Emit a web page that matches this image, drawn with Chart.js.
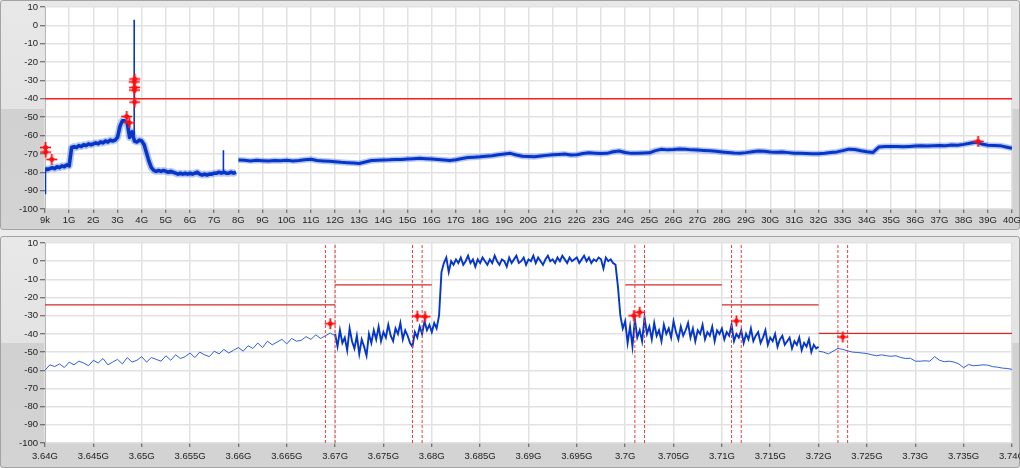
<!DOCTYPE html>
<html>
<head>
<meta charset="utf-8">
<title>Spectrum</title>
<script src="https://cdn.jsdelivr.net/npm/chart.js@4.4.1/dist/chart.umd.min.js"></script>
<style>
  html, body { margin: 0; padding: 0; background: #ececec; }
  body { width: 1020px; height: 468px; position: relative; overflow: hidden; }
  .panel {
    position: absolute; left: 0; width: 1018px;
    border: 1px solid #a3a3a3; border-radius: 3px;
  }
  #panel-top { top: 0; height: 228px; background: linear-gradient(to bottom, #e8e8e8 0%, #e3e3e3 47.4%, #d1d1d1 47.4%, #d3d3d3 100%); }
  #panel-bottom { top: 236px; height: 230px; background: linear-gradient(to bottom, #e8e8e8 0%, #e3e3e3 46%, #d1d1d1 46%, #d3d3d3 100%); }
  canvas { position: absolute; left: 0; }
  #topChart { top: 0; }
  #bottomChart { top: 236px; }
</style>
</head>
<body>
<div class="panel" id="panel-top"></div>
<div class="panel" id="panel-bottom"></div>
<canvas id="topChart" width="1020" height="230"></canvas>
<canvas id="bottomChart" width="1020" height="232"></canvas>
<script>
// ---- axes ----
const levelTicks = [10, 0, -10, -20, -30, -40, -50, -60, -70, -80, -90, -100];

const topTickValues = [0,1,2,3,4,5,6,7,8,9,10,11,12,13,14,15,16,17,18,19,20,21,22,23,24,25,26,27,28,29,30,31,32,33,34,35,36,37,38,39,40];
const topTickLabels = ['9k','1G','2G','3G','4G','5G','6G','7G','8G','9G','10G','11G','12G','13G','14G','15G','16G','17G','18G','19G','20G',
  '21G','22G','23G','24G','25G','26G','27G','28G','29G','30G','31G','32G','33G','34G','35G','36G','37G','38G','39G','40G'];

const bottomTickValues = [3.64,3.645,3.65,3.655,3.66,3.665,3.67,3.675,3.68,3.685,3.69,3.695,3.7,3.705,3.71,3.715,3.72,3.725,3.73,3.735,3.74];
const bottomTickLabels = ['3.64G','3.645G','3.65G','3.655G','3.66G','3.665G','3.67G','3.675G','3.68G','3.685G','3.69G','3.695G',
  '3.7G','3.705G','3.71G','3.715G','3.72G','3.725G','3.73G','3.735G','3.74G'];

// ---- top sweep (GHz, dBm) ----
const topLowStart = 0, topLowStep = 0.1;
const topLowLevels = [
  -78, -78.5, -78, -77.5, -78, -77, -77.5, -76.5, -77, -76,
  -76.5, -66.5, -66, -66.5, -65.5, -66, -65, -65.5, -64.5, -65,
  -64.5, -64, -64.5, -63.5, -64, -63, -63.5, -62.5, -63, -62.5,
  -61, -55, -52, -52, -53, -61, -58, -63, -63.5, -62.5,
  -63, -65, -69.5, -74, -77.5, -79, -79.5, -79, -79.5, -79,
  -79.5, -80, -79.5, -80, -80.5, -81, -80.5, -81, -80.5, -81,
  -80.5, -81, -80.5, -80, -81, -81.5, -81, -81.5, -81, -81,
  -80.5, -80.5, -80, -80.5, -80, -80.5, -80.5, -80, -80.5, -80
];
const topHighStart = 8, topHighStep = 0.25;
const topHighLevels = [
  -73.3, -73.5, -73.8, -73.5, -73.7, -73.9, -73.6, -73.7, -73.5, -73.8,
  -73.6, -73.2, -72.9, -73.6, -73.8, -74, -74.3, -74.6, -74.8, -75,
  -75.2, -74.4, -73.6, -73.4, -73.3, -73.2, -73, -73.1, -72.8, -72.6,
  -72.4, -72.6, -72.8, -73, -73.3, -73.6, -73.2, -72.5, -72, -71.8,
  -71.6, -71.3, -71, -70.5, -70, -69.7, -70.6, -71.3, -71.4, -71.6,
  -71.2, -70.8, -70.5, -70.3, -70.1, -70.6, -70.5, -69.8, -69.4, -69.6,
  -69.8, -69.7, -68.8, -68.4, -69.2, -69.7, -69.6, -69.5, -69.4, -68.2,
  -67.5, -67.8, -67.6, -67.3, -67.5, -67.8, -67.9, -68.1, -68.3, -68.6,
  -68.9, -69.2, -69.5, -69.6, -69.3, -68.8, -68.4, -68.6, -68.9, -69.1,
  -69, -69.3, -69.6, -69.7, -69.8, -69.9, -69.9, -69.6, -69.2, -68.9,
  -68.2, -67.4, -67.6, -68.3, -68.8, -69.2, -66.2, -66, -65.9, -66,
  -66.1, -65.9, -65.7, -65.6, -65.7, -65.5, -65.4, -65.6, -65.2, -65.3,
  -64.8, -64.2, -63.6, -64.6, -65.3, -65.4, -65.5, -66.2, -67
];
const topSpikeFreq = [0.02, 3.69, 7.38];
const topSpikeBase = [-78, -60, -80];
const topSpikeTip = [-92, 3, -68];
const topLimitLevel = -40;
const topMarkFreq = [0.02, 0.03, 0.28, 3.38, 3.49, 3.71, 3.69, 3.71, 3.70, 3.71, 38.6];
const topMarkLevel = [-66.5, -69, -73, -49.6, -53, -29.2, -30.8, -33.8, -35.2, -41.8, -63.2];

// ---- bottom sweep (GHz, dBm) ----
const bottomLeftStart = 3.64, bottomLeftStep = 0.0005;
const bottomLeftLevels = [
  -60, -57, -58, -56.5, -58.5, -55.5, -57, -55, -56, -57.5,
  -54.5, -56, -53.5, -57, -55.5, -54, -56.5, -53, -55.5, -54.5,
  -52.5, -55.5, -53, -54, -55, -52, -54.5, -51.5, -53.5, -52.5,
  -50.5, -53, -50, -51.5, -52.5, -49.5, -51, -48.5, -50.5, -49,
  -47.5, -49.5, -46.5, -48, -45, -47.5, -44, -46, -44.5, -43,
  -45.5, -42.5, -44, -43.5, -41.5, -43, -40.5, -42.5, -41, -39.5,
  -41
];
const bottomNoiseStart = 3.67, bottomNoiseStep = 0.00025;
const bottomNoiseLevels = [
  -40, -47, -38, -45, -42, -49, -37, -44, -48, -41,
  -51, -43, -47, -52, -40, -45, -38, -43, -36, -44,
  -39, -42, -35, -41, -44, -37, -40, -34, -43, -38,
  -41, -45, -47, -39, -42, -36, -40, -33, -38, -35,
  -39, -34, -37, -30, -6, -1, 2, -6, 0, -2,
  1, -1, 2, -2, 0, 3, -1, 1, -3, 1,
  -1, 2, 0, -2, 1, -1, 3, 0, -2, 1,
  0, -3, 2, -1, 1, 3, -1, 0, 2, -2,
  1, 0, 3, -1, 2, 0, -2, 1, 3, 0,
  1, -1, 2, 0, 3, 1, -1, 2, 0, 1,
  2, -1, 1, 3, 0, 2, -1, 1, 0, 2,
  1, -4, 2, 0, 1, -1, -2, -14, -30, -37,
  -33, -45, -36, -47, -32, -42, -38, -44, -31, -40,
  -36, -43, -34, -41, -38, -44, -35, -40, -37, -42,
  -33, -39, -43, -36, -41, -38, -34, -42, -37, -44,
  -38, -40, -35, -43, -39, -41, -36, -44, -38, -40,
  -37, -43, -39, -41, -35, -44, -40, -42, -38, -45,
  -40, -43, -37, -44, -41, -39, -45, -42, -38, -46,
  -42, -44, -40, -47, -43, -41, -46, -44, -42, -48,
  -44, -46, -42, -49, -45, -47, -43, -50, -46, -48,
  -47
];
const bottomRightStart = 3.72, bottomRightStep = 0.0005;
const bottomRightLevels = [
  -49.5, -50, -51, -49.5, -48, -48.5, -49.3, -50, -50.2, -50.5,
  -50.8, -51.5, -52, -51.5, -52, -52.3, -52, -53, -53.5, -53.4,
  -55, -55, -54.8, -55, -52.5, -54.5, -55.3, -55, -55.5, -56.5,
  -58.6, -56.8, -57.5, -57.3, -57, -57.2, -58, -58.3, -58.8, -59,
  -59.5
];
const bottomLimitStart = [3.64, 3.67, 3.70, 3.71, 3.72];
const bottomLimitEnd = [3.67, 3.68, 3.71, 3.72, 3.74];
const bottomLimitLevel = [-24, -13, -13, -24, -39.7];
const bottomCursorFreq = [3.669, 3.670, 3.678, 3.679, 3.701, 3.702, 3.711, 3.712, 3.722, 3.723];
const bottomMarkFreq = [3.6695, 3.6785, 3.6793, 3.7009, 3.7015, 3.7115, 3.7225];
const bottomMarkLevel = [-34.4, -30.2, -30.5, -30, -28.1, -32.9, -41.7];

// ---- helpers ----
const sweep = (start, step, levels) => levels.map((y, i) => ({ x: +(start + i * step).toFixed(6), y }));
const points = (xs, ys) => xs.map((x, i) => ({ x, y: ys[i] }));

const makeStar = () => {
  const c = document.createElement('canvas');
  c.width = 13; c.height = 13;
  const g = c.getContext('2d');
  g.strokeStyle = 'rgba(255,60,60,0.4)';
  g.lineWidth = 3;
  g.beginPath(); g.moveTo(1, 6.5); g.lineTo(12, 6.5); g.moveTo(6.5, 1); g.lineTo(6.5, 12); g.stroke();
  g.strokeStyle = '#ff0a0a';
  g.lineWidth = 1.2;
  g.beginPath(); g.moveTo(1, 6.5); g.lineTo(12, 6.5); g.moveTo(6.5, 1); g.lineTo(6.5, 12); g.stroke();
  g.fillStyle = '#ff0a0a';
  g.beginPath(); g.moveTo(6.5, 3.2); g.lineTo(9.8, 6.5); g.lineTo(6.5, 9.8); g.lineTo(3.2, 6.5); g.closePath(); g.fill();
  return c;
};

const plotBg = {
  id: 'plotBg',
  beforeDraw(chart) {
    const { ctx, chartArea: a } = chart;
    ctx.save();
    ctx.fillStyle = '#ffffff';
    ctx.fillRect(a.left, a.top, a.right - a.left, a.bottom - a.top);
    ctx.restore();
  }
};

const tickFont = { family: "'Liberation Sans', Arial, sans-serif", size: 9.5 };
const gridStyle = { color: '#e2e2e2', lineWidth: 1.5, tickColor: '#555', tickLength: 4, tickWidth: 1 };

const makeScales = (xMin, xMax, tickValues, tickLabels, xHeight, labelPad) => ({
  x: {
    type: 'linear', min: xMin, max: xMax,
    afterBuildTicks: s => { s.ticks = tickValues.map(v => ({ value: v })); },
    afterFit: s => { s.height = xHeight; s.paddingLeft = 0; s.paddingRight = 0; },
    ticks: { autoSkip: false, maxRotation: 0, minRotation: 0, font: tickFont, color: '#222', padding: labelPad,
             callback: (v, i) => tickLabels[i] },
    grid: gridStyle,
    border: { display: false }
  },
  y: {
    type: 'linear', min: -100, max: 10,
    afterBuildTicks: s => { s.ticks = levelTicks.map(v => ({ value: v })); },
    afterFit: s => { s.width = 45; s.paddingTop = 0; s.paddingBottom = 0; },
    ticks: { font: tickFont, color: '#222', padding: 2, callback: v => String(v) },
    grid: { ...gridStyle, tickLength: 5 },
    border: { display: true, color: '#b8b8b8', width: 1 }
  }
});

const baseOptions = (scales) => ({
  responsive: false,
  animation: false,
  devicePixelRatio: 1,
  layout: { padding: { left: 0, right: 8, top: 7, bottom: 0 } },
  plugins: { legend: { display: false }, tooltip: { enabled: false } },
  elements: { point: { radius: 0 }, line: { tension: 0 } },
  scales
});

const star = makeStar();
const traceBlue = '#0636c8';
const haloBlue = 'rgba(50, 95, 225, 0.35)';

// ---- top chart ----
const initTopChart = () => {
  const spikes = [];
  topSpikeFreq.forEach((f, i) => {
    spikes.push({ x: f, y: topSpikeBase[i] }, { x: f, y: topSpikeTip[i] }, { x: f, y: null });
  });
  const low = sweep(topLowStart, topLowStep, topLowLevels);
  const high = sweep(topHighStart, topHighStep, topHighLevels);
  new Chart(document.getElementById('topChart'), {
    type: 'line',
    data: {
      datasets: [
        { data: points(topMarkFreq, topMarkLevel), showLine: false, pointStyle: star, pointRadius: 6, clip: false, order: 0 },
        { data: [{ x: 0, y: topLimitLevel }, { x: 40, y: topLimitLevel }], borderColor: '#ff1f1f', borderWidth: 1.5, order: 1 },
        { data: spikes, borderColor: traceBlue, borderWidth: 1.6, spanGaps: false, order: 2 },
        { data: low, borderColor: traceBlue, borderWidth: 3.6, borderJoinStyle: 'round', order: 3 },
        { data: high, borderColor: traceBlue, borderWidth: 3, borderJoinStyle: 'round', order: 3 },
        { data: low, borderColor: haloBlue, borderWidth: 7, borderJoinStyle: 'round', order: 4 },
        { data: high, borderColor: haloBlue, borderWidth: 6, borderJoinStyle: 'round', order: 4 }
      ]
    },
    options: baseOptions(makeScales(0, 40, topTickValues, topTickLabels, 21, 2)),
    plugins: [plotBg]
  });
};

// ---- bottom chart ----
const initBottomChart = () => {
  const limits = [];
  bottomLimitStart.forEach((s, i) => {
    limits.push({ x: s, y: bottomLimitLevel[i] }, { x: bottomLimitEnd[i], y: bottomLimitLevel[i] }, { x: bottomLimitEnd[i], y: null });
  });
  const cursors = [];
  bottomCursorFreq.forEach(f => {
    cursors.push({ x: f, y: -100 }, { x: f, y: 10 }, { x: f, y: null });
  });
  new Chart(document.getElementById('bottomChart'), {
    type: 'line',
    data: {
      datasets: [
        { data: points(bottomMarkFreq, bottomMarkLevel), showLine: false, pointStyle: star, pointRadius: 6, clip: false, order: 0 },
        { data: limits, borderColor: '#d12c2c', borderWidth: 1.2, spanGaps: false, order: 1 },
        { data: cursors, borderColor: '#ef3b3b', borderWidth: 1, borderDash: [3, 2], spanGaps: false, order: 2 },
        { data: sweep(bottomLeftStart, bottomLeftStep, bottomLeftLevels), borderColor: '#2f5fdc', borderWidth: 1, order: 3 },
        { data: sweep(bottomNoiseStart, bottomNoiseStep, bottomNoiseLevels), borderColor: traceBlue, borderWidth: 1.9, order: 3 },
        { data: sweep(bottomRightStart, bottomRightStep, bottomRightLevels), borderColor: '#2f5fdc', borderWidth: 1, order: 3 }
      ]
    },
    options: baseOptions(makeScales(3.64, 3.74, bottomTickValues, bottomTickLabels, 25, 4)),
    plugins: [plotBg]
  });
};

initTopChart();
initBottomChart();
</script>
</body>
</html>
